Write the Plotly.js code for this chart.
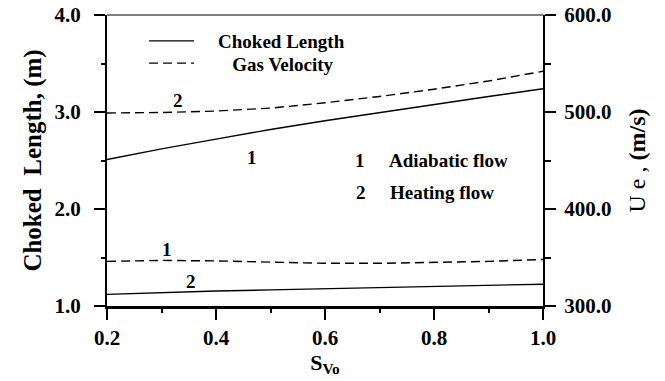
<!DOCTYPE html>
<html>
<head>
<meta charset="utf-8">
<script src="https://cdn.plot.ly/plotly-3.0.1.min.js"></script>
<style>
  html, body { margin: 0; padding: 0; background: #fff; }
  #chart { width: 665px; height: 381px; }
</style>
</head>
<body>
<div id="chart"></div>
<script>
// Swirl number at the inlet
const svo = [0.2, 0.3, 0.4, 0.5, 0.6, 0.7, 0.8, 0.9, 1.0];

// Choked length (m)
const lengthAdiabatic = [2.51, 2.62, 2.72, 2.82, 2.91, 2.995, 3.08, 3.16, 3.24];
const lengthHeating   = [1.12, 1.14, 1.155, 1.166, 1.178, 1.19, 1.20, 1.213, 1.225];

// Gas velocity at exit, Ue (m/s)
const velocityAdiabatic = [346, 347, 346.5, 345, 344, 344, 344.8, 346, 348];
const velocityHeating   = [499, 499.5, 501, 504, 509.5, 516, 523.5, 532, 542];

const xTicks     = [0.2, 0.4, 0.6, 0.8, 1.0];
const leftTicks  = [1, 2, 3, 4];
const rightTicks = [300, 400, 500, 600];

const FONT = 'Liberation Serif';
const dashStyle = '9px,5px';
const NB = '\u00A0';

const traces = [
  { x: svo, y: lengthAdiabatic, yaxis: 'y', name: NB.repeat(4) + 'Choked Length',
    mode: 'lines', line: { color: '#000', width: 1.4 }, showlegend: true, legend: 'legend' },
  { x: svo, y: velocityHeating, yaxis: 'y2', name: NB.repeat(7) + 'Gas Velocity',
    mode: 'lines', line: { color: '#000', width: 1.4, dash: dashStyle }, showlegend: true, legend: 'legend2' },
  { x: svo, y: lengthHeating, yaxis: 'y', name: 'Choked Length (heating)',
    mode: 'lines', line: { color: '#000', width: 1.4 }, showlegend: false },
  { x: svo, y: velocityAdiabatic, yaxis: 'y2', name: 'Gas Velocity (adiabatic)',
    mode: 'lines', line: { color: '#000', width: 1.4, dash: dashStyle }, showlegend: false }
];

const tickFont  = { family: FONT, size: 21, color: '#000', weight: 'bold' };
const labelFont = { family: FONT, size: 19, color: '#000', weight: 'bold' };

function label(text, x, y, yref, extra) {
  return Object.assign({ text: text, x: x, y: y, xref: 'x', yref: yref,
    showarrow: false, font: labelFont }, extra || {});
}

function legendBox(yMid) {
  return { x: 0.085, y: yMid, xanchor: 'left', yanchor: 'middle',
    bgcolor: 'rgba(0,0,0,0)', borderwidth: 0, font: labelFont, itemwidth: 45 };
}

const layout = {
  width: 665, height: 381,
  margin: { l: 106.7, r: 121.7, t: 14.7, b: 75 },
  paper_bgcolor: '#fff', plot_bgcolor: '#fff',
  font: { family: FONT, color: '#000' },
  xaxis: {
    range: [0.2, 1.0], tickvals: xTicks,
    tickformat: '.1f', tickfont: tickFont,
    ticks: 'outside', ticklen: 11, tickwidth: 2, tickcolor: '#000',
    ticklabelstandoff: 0,
    minor: { dtick: 0.1, ticks: 'outside', ticklen: 4, tickwidth: 2, tickcolor: '#000' },
    showline: true, linewidth: 2.5, linecolor: '#000',
    showgrid: false, zeroline: false,
    title: { text: '<b>S<sub>Vo</sub></b>', font: { family: FONT, size: 22, color: '#000', weight: 'bold' }, standoff: 4 }
  },
  yaxis: {
    range: [1, 4], tickvals: leftTicks, tickformat: '.1f', tickfont: tickFont,
    ticks: 'outside', ticklen: 11, tickwidth: 2, tickcolor: '#000',
    ticklabelstandoff: 9,
    minor: { dtick: 0.5, ticks: 'outside', ticklen: 4, tickwidth: 2, tickcolor: '#000' },
    showline: true, linewidth: 2, linecolor: '#000',
    showgrid: false, zeroline: false,
    title: { text: 'Choked  Length, (m)', font: { family: FONT, size: 25, color: '#000', weight: 'bold' }, standoff: 6 }
  },
  yaxis2: {
    overlaying: 'y', side: 'right',
    range: [300, 600], tickvals: rightTicks, tickformat: '.1f', tickfont: tickFont,
    ticks: 'outside', ticklen: 11, tickwidth: 2, tickcolor: '#000',
    ticklabelstandoff: 4,
    minor: { dtick: 50, ticks: 'outside', ticklen: 6, tickwidth: 2, tickcolor: '#000' },
    showline: true, linewidth: 2, linecolor: '#000',
    showgrid: false, zeroline: false,
    title: { text: '<span style="font-weight:normal">U e ,</span> (m/s)', font: { family: FONT, size: 24, color: '#000', weight: 'bold' }, standoff: 18 }
  },
  shapes: [
    { type: 'line', xref: 'paper', yref: 'paper', x0: 0, x1: 1, y0: 1, y1: 1,
      line: { color: '#000', width: 1 } }
  ],
  showlegend: true,
  legend: legendBox(0.9107),
  legend2: legendBox(0.834),
  annotations: [
    label('1', 0.466, 2.534, 'y'),
    label('2', 0.354, 1.25, 'y'),
    label('2', 0.331, 511.4, 'y2'),
    label('1', 0.31, 358.7, 'y2'),
    label('1', 0.664, 2.496, 'y'),
    label('Adiabatic flow', 0.7136, 2.496, 'y', { xanchor: 'left' }),
    label('2', 0.666, 2.167, 'y'),
    label('Heating flow', 0.715, 2.167, 'y', { xanchor: 'left' })
  ]
};

Plotly.newPlot('chart', traces, layout, { staticPlot: true, displayModeBar: false });
</script>
</body>
</html>
